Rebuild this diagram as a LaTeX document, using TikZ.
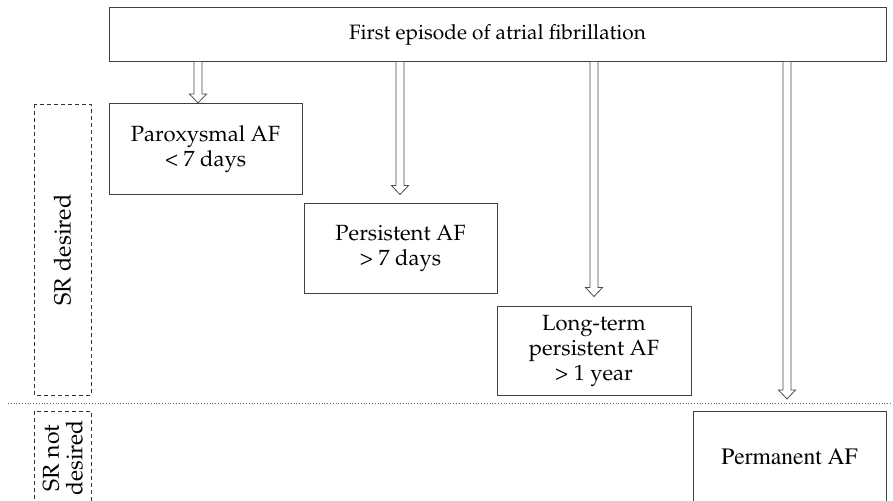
\documentclass[tikz,border=0pt]{standalone}
\usepackage[T1]{fontenc}
\renewcommand{\rmdefault}{ppl}
\usetikzlibrary{calc}
\tikzset{
  box/.style={draw=black!75, line width=1pt, align=center, inner sep=0pt,
    font=\fontsize{22}{25}\selectfont},
  srbox/.style={draw=black!80, dashed, line width=0.7pt, dash pattern=on 4pt off 3pt},
  hollow/.style={draw=black!70, line width=0.8pt, fill=white,
    to path={let \p1=(\tikztostart), \p2=(\tikztotarget) in
      (\x1-4pt,\y1) -- (\x1-4pt,\y2+9pt) -- (\x1-8.5pt,\y2+9pt) -- (\x1,\y2)
      -- (\x1+8.5pt,\y2+9pt) -- (\x1+4pt,\y2+9pt) -- (\x1+4pt,\y1)}},
  lbl/.style={font=\fontsize{23}{23.5}\selectfont, align=center, inner sep=0pt}
}
\begin{document}
\begin{tikzpicture}[x=1pt,y=-1pt]
\useasboundingbox (0,0) rectangle (893,500);
\clip (0,0) rectangle (893,500);
% top box
\node[box, minimum width=777pt, minimum height=54pt, font=\fontsize{20.8}{25}\selectfont] (first) at (497.5,35) {First episode of atrial fibrillation};
% category boxes
\node[box, minimum width=193pt, minimum height=91pt] (par) at (205.5,149) {Paroxysmal AF\\ {<} 7 days};
\node[box, minimum width=193pt, minimum height=90pt] (pers) at (400.5,248) {Persistent AF\\ {>} 7 days};
\node[box, minimum width=194pt, minimum height=89pt] (long) at (594,350.5) {Long-term\\ persistent AF\\ {>} 1 year};
\draw[draw=black!75, line width=1pt] (693,515) coordinate (pbl) rectangle (886,411) coordinate (ptr);
\node[lbl, font=\fontfamily{ptm}\fontsize{23.5}{24}\selectfont] (perm) at (789.5,457) {Permanent AF};
% arrows
\coordinate (a1) at (198,62);
\coordinate (a2) at (400,62);
\coordinate (a3) at (594,62);
\coordinate (a4) at (787,62);
\draw[hollow] (a1) to (a1 |- par.north);
\draw[hollow] (a2) to ($(a2 |- pers.north)+(0,-8)$);
\draw[hollow] (a3) to ($(a3 |- long.north)+(0,-9)$);
\coordinate (a4end) at (787,399);
\draw[hollow] (a4) to (a4end);
% divider
\coordinate (d1) at (8,403);
\coordinate (d2) at (893,403);
\draw[black!60, dotted, line width=0.8pt] (d1) -- (d2);
% SR boxes
\draw[srbox] (34,104) rectangle (91,395);
\node[lbl, rotate=90, font=\fontsize{23.5}{24}\selectfont] (srd) at (62.5,250) {SR desired};
\draw[srbox] (34,411) rectangle (91,515);
\node[lbl, rotate=90] (srnd) at (63,458) {SR not\\ desired};
\end{tikzpicture}
\end{document}
